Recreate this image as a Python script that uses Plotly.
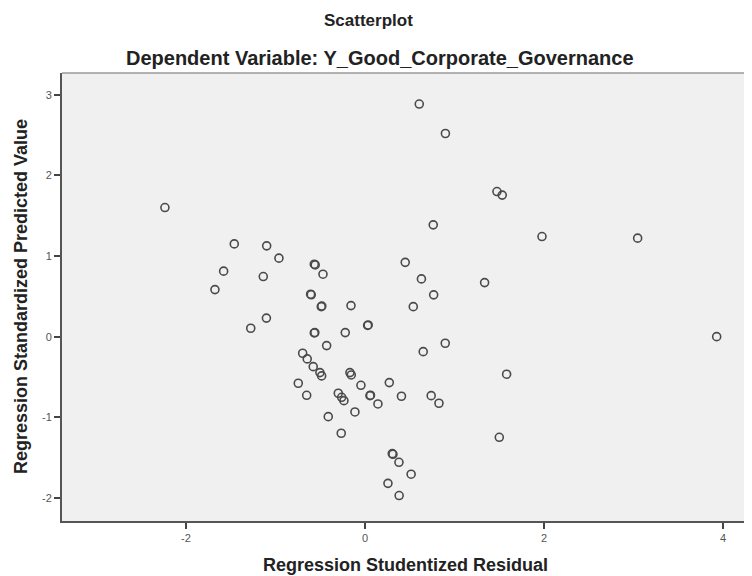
import plotly.graph_objects as go

# Regression Studentized Residual (x) and Regression Standardized Predicted Value (y)
resid = [0.607, 0.899, -2.235, 1.475, 1.534, 0.763, 1.978, 3.047, -1.460, -1.098,
         -0.961, -0.566, -0.556, -0.469, 0.450, -1.579, -1.136, 0.631, -1.676, 0.768,
         -0.607, -0.600, -0.488, -0.482, -0.156, 0.540, 1.337, -1.101, -1.276, 0.036,
         0.030, -0.566, -0.560, -0.220, -0.428, 0.897, 0.651, 3.930, -0.696, -0.645,
         -0.578, -0.503, -0.484, -0.168, -0.153, -0.745, -0.045, 0.272, -0.651, -0.298,
         -0.260, -0.235, 0.056, 0.062, 0.145, 0.408, 0.740, 0.827, -0.112, -0.410,
         -0.265, 1.583, 1.501, 0.313, 0.305, 0.380, 0.516, 0.257, 0.382]
pred = [2.885, 2.520, 1.602, 1.800, 1.756, 1.387, 1.242, 1.222, 1.151, 1.127,
        0.974, 0.899, 0.890, 0.775, 0.922, 0.813, 0.746, 0.717, 0.584, 0.519,
        0.527, 0.520, 0.373, 0.380, 0.386, 0.373, 0.671, 0.231, 0.105, 0.146,
        0.140, 0.047, 0.052, 0.051, -0.110, -0.081, -0.185, 0.001, -0.205, -0.275,
        -0.371, -0.445, -0.486, -0.445, -0.474, -0.577, -0.602, -0.569, -0.726, -0.701,
        -0.751, -0.793, -0.731, -0.725, -0.834, -0.738, -0.731, -0.825, -0.933, -0.991,
        -1.197, -0.465, -1.247, -1.458, -1.450, -1.557, -1.705, -1.818, -1.969]

x_ticks = [-2, 0, 2, 4]
y_ticks = [-2, -1, 0, 1, 2, 3]

# page body has an 8px margin, so the figure starts at (8, 8) in the window
OFF = 8
W, H = 752 - OFF, 576 - OFF
# plot area in window pixels: x 62..748, y 73..521
PL, PR, PT, PB = 62, 748, 73, 521
L, R, T, B = PL - OFF, W - (PR - OFF), PT - OFF, H - (PB - OFF)


def fx(p):
    return (p - PL) / (PR - PL)


def fy(p):
    return 1 - (p - PT) / (PB - PT)


fig = go.Figure(go.Scatter(
    x=resid, y=pred, mode="markers",
    marker=dict(symbol="circle-open", size=8, color="#4a4a4a", line=dict(width=1.6)),
    hoverinfo="x+y",
))

axis_common = dict(
    showgrid=False, zeroline=False, showline=True, linecolor="#555", linewidth=2,
    mirror=False, ticks="outside", ticklen=6, tickwidth=1.5, tickcolor="#444",
    tickfont=dict(size=11, color="#555"),
)

fig.update_layout(
    width=W, height=H,
    margin=dict(l=L, r=R, t=T, b=B, pad=0),
    paper_bgcolor="white",
    plot_bgcolor="#f0f0f0",
    showlegend=False,
    font=dict(family="Liberation Sans, Arial, sans-serif", color="#333"),
    xaxis=dict(range=[-3.385, 4.28], tickvals=x_ticks,
               ticktext=[str(v) for v in x_ticks], **axis_common),
    yaxis=dict(range=[-2.285, 3.27], tickvals=y_ticks,
               ticktext=[str(v) for v in y_ticks], **axis_common),
    shapes=[
        dict(type="line", xref="paper", yref="paper", x0=0, x1=1, y0=1, y1=1,
             line=dict(color="#9a9a9a", width=1.5)),
        dict(type="line", xref="paper", yref="paper", x0=1, x1=1, y0=0, y1=1,
             line=dict(color="#d0d0d0", width=1)),
    ],
    annotations=[
        dict(text="<b>Scatterplot</b>", xref="paper", yref="paper",
             x=fx(368), y=fy(20), xanchor="center", yanchor="middle",
             showarrow=False, font=dict(size=17, color="#222")),
        dict(text="<b>Dependent Variable: Y_Good_Corporate_Governance</b>",
             xref="paper", yref="paper", x=fx(380), y=fy(58),
             xanchor="center", yanchor="middle", showarrow=False,
             font=dict(size=20, color="#222")),
        dict(text="<b>Regression Studentized Residual</b>",
             xref="paper", yref="paper", x=fx(405), y=fy(565),
             xanchor="center", yanchor="middle", showarrow=False,
             font=dict(size=18, color="#222")),
        dict(text="<b>Regression Standardized Predicted Value</b>",
             xref="paper", yref="paper", x=fx(21), y=fy(297), textangle=-90,
             xanchor="center", yanchor="middle", showarrow=False,
             font=dict(size=18, color="#222")),
    ],
)

fig.write_html("out.html")
